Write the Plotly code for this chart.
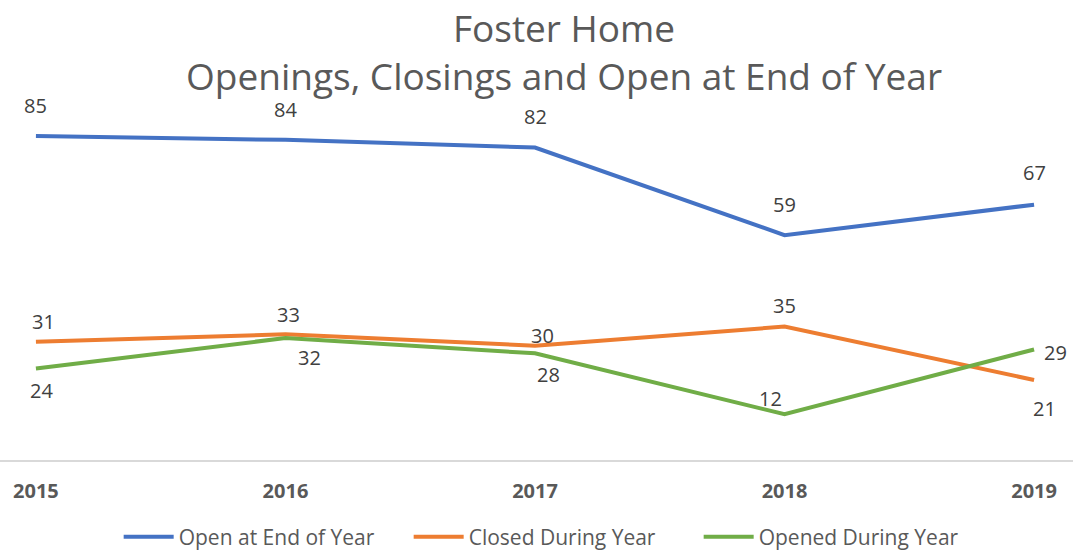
import plotly.graph_objects as go

years = ["2015", "2016", "2017", "2018", "2019"]
open_end = [85, 84, 82, 59, 67]
closed = [31, 33, 30, 35, 21]
opened = [24, 32, 28, 12, 29]

series = [
    ("Open at End of Year", open_end, "#4472C4"),
    ("Closed During Year", closed, "#ED7D31"),
    ("Opened During Year", opened, "#70AD47"),
]

# label offsets (pixels, +down) per series, per point
offsets = [
    [(0, -31), (0, -30), (0, -31), (0, -31), (0, -32)],
    [(8, -20), (3, -20), (7, -10), (0, -21), (10, 29)],
    [(6, 22), (24, 19), (13, 21), (-14, -16), (21, 3)],
]

fig = go.Figure()
annotations = []
for (name, vals, color), offs in zip(series, offsets):
    fig.add_trace(go.Scatter(
        x=list(range(len(years))), y=vals, name=name, mode="lines",
        line=dict(color=color, width=4),
    ))
    for i, v in enumerate(vals):
        annotations.append(dict(
            x=i, y=v, text=str(v), showarrow=False,
            xshift=offs[i][0], yshift=-offs[i][1],
            font=dict(family="Open Sans", size=20, color="#404040"),
        ))

annotations.append(dict(
    xref="paper", yref="paper", x=0.526, y=1.19,
    xanchor="center", yanchor="middle", showarrow=False,
    text="Foster Home<br>Openings, Closings and Open at End of Year",
    font=dict(family="Open Sans", size=37, color="#595959"),
))

fig.update_layout(
    width=1073, height=550,
    margin=dict(l=0, r=0, t=117, b=90, autoexpand=False),
    paper_bgcolor="white", plot_bgcolor="white",
    xaxis=dict(
        range=[-0.144, 4.156], tickmode="array",
        tickvals=list(range(len(years))), ticktext=years,
        showgrid=False, zeroline=False, showline=True,
        linecolor="#D9D9D9", linewidth=2, ticks="",
        tickfont=dict(family="Open Sans", size=20, color="#595959", weight="bold"),
        ticklabelstandoff=12, automargin=False,
    ),
    yaxis=dict(range=[0, 90], visible=False, automargin=False),
    showlegend=True,
    legend=dict(
        orientation="h", x=0.516, xanchor="center",
        yref="container", y=0.0236, yanchor="middle",
        font=dict(family="Open Sans", size=21, color="#595959"),
        entrywidth=225, itemwidth=50,
    ),
    annotations=annotations,
)

fig.write_html(
    "out.html",
    config={"displayModeBar": False},
    post_script="document.body.style.margin='0px';document.body.style.overflow='hidden';",
)
